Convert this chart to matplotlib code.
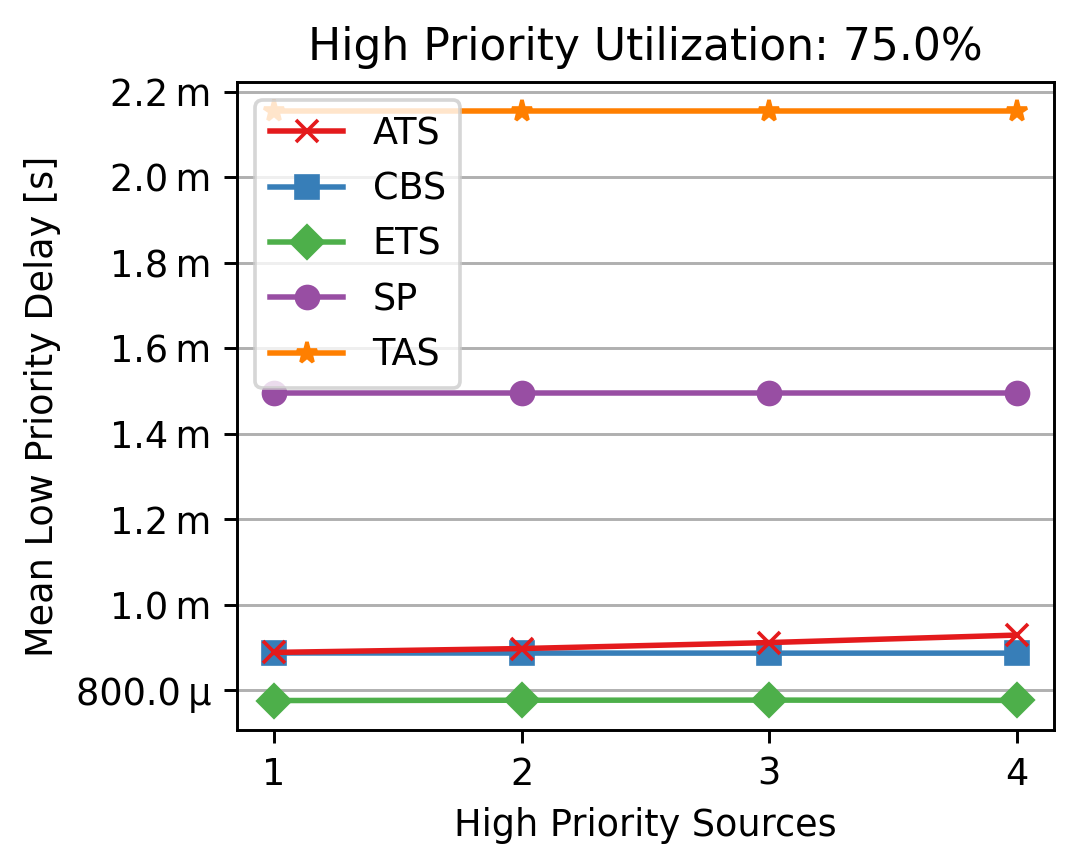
import matplotlib
matplotlib.use("Agg")
import matplotlib.pyplot as plt
from matplotlib.ticker import EngFormatter

sources = [1, 2, 3, 4]

ats = [0.889e-3, 0.898e-3, 0.912e-3, 0.9295e-3]
cbs = [0.8877e-3, 0.8875e-3, 0.8873e-3, 0.8873e-3]
ets = [0.7765e-3, 0.7772e-3, 0.7775e-3, 0.7768e-3]
sp = [1.4953e-3, 1.4953e-3, 1.4953e-3, 1.4953e-3]
tas = [2.1535e-3, 2.1535e-3, 2.1535e-3, 2.1535e-3]

series = [
    ("ATS", ats, "x", "#e41a1c"),
    ("CBS", cbs, "s", "#377eb8"),
    ("ETS", ets, "D", "#4daf4a"),
    ("SP", sp, "o", "#984ea3"),
    ("TAS", tas, "*", "#ff7f00"),
]

DPI = 264
fig, ax = plt.subplots(figsize=(1080 / DPI, 868 / DPI), dpi=DPI)
fig.subplots_adjust(left=0.2194, right=0.9757, top=0.9055, bottom=0.159)

for name, vals, marker, color in series:
    # ATS sits on top of CBS in the original
    z = 2.5 if name == "ATS" else 2
    ax.plot(sources, vals, marker=marker, color=color, label=name, zorder=z)

ax.yaxis.set_major_formatter(EngFormatter(places=1, sep="\u2009"))
ax.set_xticks(sources)
ax.grid(axis="y")
ax.set_title("High Priority Utilization: 75.0%")
ax.set_xlabel("High Priority Sources")
ax.set_ylabel("Mean Low Priority Delay [s]")
ax.legend(loc="upper left")

fig.savefig("out.png", dpi=DPI)
plt.close(fig)
